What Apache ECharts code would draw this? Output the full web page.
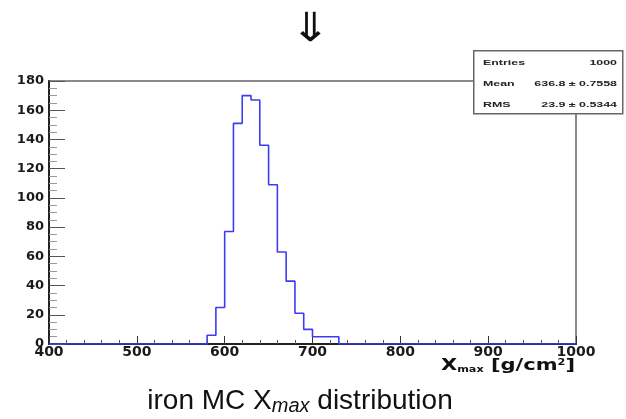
<!DOCTYPE html>
<html>
<head>
<meta charset="utf-8">
<script src="https://cdn.jsdelivr.net/npm/echarts@6/dist/echarts.min.js"></script>
<style>
  html, body { margin: 0; padding: 0; background: #fff; }
  #chart { width: 626px; height: 419px; }
</style>
</head>
<body>
<div id="chart"></div>
<script>
// histogram of iron MC Xmax, 10 g/cm2 bins starting at 580
const binStart = 580
const binWidth = 10
const counts = [6, 25, 77, 151, 170, 167, 136, 109, 63, 43, 21, 10, 5, 5, 5]
const xRange = [400, 1000]
const yRange = [0, 180]
const statLabels = ['Entries', 'Mean', 'RMS']
const statValues = ['1000', '636.8 \u00b1 0.7558', '23.9 \u00b1 0.5344']

// step points: each bin's left edge with its count
const points = [[xRange[0], 0]]
counts.forEach((c, i) => points.push([binStart + i * binWidth, c]))
points.push([binStart + counts.length * binWidth, 0])
points.push([xRange[1], 0])

const chart = echarts.init(document.getElementById('chart'))

const bold = 'DejaVu Sans, sans-serif'
const plain = 'Liberation Sans, Arial, sans-serif'

const statRows = []
statLabels.forEach((l, i) => {
  const y = 63 + i * 20.7
  statRows.push({
    type: 'text', x: 483, y: y, scaleX: 1.55, z: 11,
    style: { text: l, fontSize: 8, fontWeight: 'bold', fontFamily: plain, fill: '#222', verticalAlign: 'middle' }
  })
  statRows.push({
    type: 'text', x: 617, y: y, scaleX: 1.55, z: 11,
    style: { text: statValues[i], fontSize: 8, fontWeight: 'bold', fontFamily: plain, fill: '#222', align: 'right', verticalAlign: 'middle' }
  })
})

const option = {
  animation: false,
  grid: {
    left: 49, top: 81, right: 50, bottom: 75,
    show: true,
    borderColor: '#8a8a8a',
    borderWidth: 2
  },
  xAxis: {
    type: 'value',
    min: xRange[0], max: xRange[1], interval: 100,
    axisLine: { show: true, onZero: false, lineStyle: { color: '#222', width: 2 } },
    axisTick: { show: true, inside: true, length: 8, lineStyle: { color: '#333' } },
    minorTick: { show: true, splitNumber: 5, length: 4, lineStyle: { color: '#555' } },
    splitLine: { show: false },
    axisLabel: {
      margin: 1, color: '#1a1a1a', fontSize: 14, fontWeight: 'bold', fontFamily: bold,
      formatter: v => String(v)
    }
  },
  yAxis: {
    type: 'value',
    min: yRange[0], max: yRange[1], interval: 20,
    axisLine: { show: true, lineStyle: { color: '#222', width: 2 } },
    axisTick: { show: true, inside: true, length: 16, lineStyle: { color: '#555' } },
    minorTick: { show: true, splitNumber: 4, length: 8, lineStyle: { color: '#999' } },
    splitLine: { show: false },
    axisLabel: { margin: 5, color: '#1a1a1a', fontSize: 13, fontWeight: 'bold', fontFamily: bold }
  },
  series: [{
    type: 'line',
    step: 'end',
    data: points,
    symbol: 'none',
    lineStyle: { color: '#3c3cf5', width: 1.6 },
    z: 5
  }],
  graphic: [
    {
      type: 'text', x: 310, y: 11, scaleX: 1.2,
      style: { text: '\u21d3', fontSize: 40, fontFamily: 'DejaVu Sans, sans-serif', fill: '#111', align: 'center' }
    },
    {
      type: 'rect', left: 473, top: 50,
      shape: { width: 149, height: 63 },
      style: { fill: '#fff', stroke: '#666', lineWidth: 1.5 },
      z: 10
    },
    ...statRows,
    {
      type: 'text', x: 441, y: 374, scaleX: 1.4,
      style: {
        text: '{b|X}{s|max}{b| [g/cm}{sup|2}{b|]}',
        verticalAlign: 'bottom',
        rich: {
          b: { fontSize: 15, fontWeight: 'bold', fontFamily: bold, fill: '#111' },
          s: { fontSize: 8, fontWeight: 'bold', fontFamily: bold, fill: '#111', verticalAlign: 'bottom', padding: [7, 0, 0, 0] },
          sup: { fontSize: 8, fontWeight: 'bold', fontFamily: bold, fill: '#111', verticalAlign: 'top' }
        }
      }
    },
    {
      type: 'text', x: 300, y: 416,
      style: {
        text: '{n|iron MC X}{i|max}{n| distribution}',
        align: 'center', verticalAlign: 'bottom',
        rich: {
          n: { fontSize: 28, fontFamily: plain, fill: '#111' },
          i: { fontSize: 20, fontStyle: 'italic', fontFamily: plain, fill: '#111', padding: [10, 0, 0, 0] }
        }
      }
    }
  ]
}

chart.setOption(option)
</script>
</body>
</html>
